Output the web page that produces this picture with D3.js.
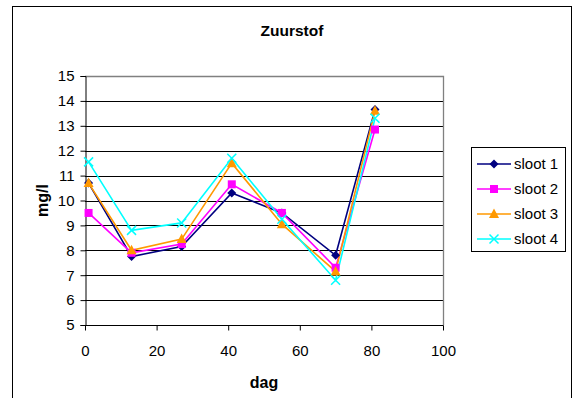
<!DOCTYPE html>
<html>
<head>
<meta charset="utf-8">
<script src="https://cdn.jsdelivr.net/npm/d3@7"></script>
<style>
  html, body { margin: 0; padding: 0; background: #fff; }
  svg { display: block; font-family: Arial, "Liberation Sans", sans-serif; }
</style>
</head>
<body>
<svg id="chart" width="573" height="398"></svg>
<script>
// Dissolved oxygen (mg/l) per ditch, sampled on these days
const days = [1, 13, 27, 41, 55, 70, 81];
const sloot1 = [10.7, 7.75, 8.15, 10.3, 9.5, 7.8, 13.65];
const sloot2 = [9.5, 7.9, 8.25, 10.65, 9.5, 7.3, 12.85];
const sloot3 = [10.7, 8.0, 8.45, 11.5, 9.05, 7.15, 13.6];
const sloot4 = [11.55, 8.8, 9.1, 11.7, 9.25, 6.8, 13.3];
const seriesNames = ["sloot 1", "sloot 2", "sloot 3", "sloot 4"];
const xTicks = [0, 20, 40, 60, 80, 100];
const yTicks = [5, 6, 7, 8, 9, 10, 11, 12, 13, 14, 15];

const series = [
  { name: seriesNames[0], values: sloot1, color: "#000080", marker: "diamond" },
  { name: seriesNames[1], values: sloot2, color: "#FF00FF", marker: "square" },
  { name: seriesNames[2], values: sloot3, color: "#FF9900", marker: "triangle" },
  { name: seriesNames[3], values: sloot4, color: "#00FFFF", marker: "cross" }
];

const svg = d3.select("#chart");

// outer chart frame
svg.append("rect")
  .attr("x", 12.5).attr("y", 6.5)
  .attr("width", 559).attr("height", 400)
  .attr("fill", "#fff").attr("stroke", "#000").attr("stroke-width", 1);

const plot = { left: 85, right: 443, top: 76, bottom: 325 };

const x = d3.scaleLinear().domain([0, 100]).range([plot.left, plot.right]);
const y = d3.scaleLinear().domain([5, 15]).range([plot.bottom, plot.top]);

// horizontal gridlines
svg.append("g")
  .selectAll("line")
  .data(yTicks.filter(t => t > 5 && t < 15))
  .join("line")
  .attr("x1", plot.left).attr("x2", plot.right)
  .attr("y1", d => Math.round(y(d)) + 0.5).attr("y2", d => Math.round(y(d)) + 0.5)
  .attr("stroke", "#000").attr("stroke-width", 1);

// plot area border (top and right)
svg.append("path")
  .attr("d", `M${plot.left},${plot.top + 0.5}H${plot.right + 0.5}V${plot.bottom}`)
  .attr("fill", "none").attr("stroke", "#808080").attr("stroke-width", 1.3);

// axes
const xAxis = d3.axisBottom(x).tickValues(xTicks).tickSize(5).tickPadding(6);
const yAxis = d3.axisLeft(y).tickValues(yTicks).tickSize(5).tickPadding(6);

const gx = svg.append("g")
  .attr("transform", `translate(0,${Math.round(y(5)) + 0.5})`)
  .call(xAxis);
const gy = svg.append("g")
  .attr("transform", `translate(${plot.left + 0.5},0)`)
  .call(yAxis);

[gx, gy].forEach(g => {
  g.select(".domain").attr("stroke", "#000").attr("stroke-width", 1);
  g.selectAll(".tick line").attr("stroke", "#000");
  g.selectAll(".tick text")
    .attr("fill", "#000")
    .style("font-size", "15px")
    .style("font-family", "Arial, 'Liberation Sans', sans-serif");
});
gx.select(".domain").attr("d", `M${plot.left},0H${plot.right + 0.5}`);
gx.selectAll(".tick text").attr("dy", "1.28em");

// series lines
const line = d3.line()
  .x((d, i) => x(days[i]))
  .y(d => y(d));

series.forEach(s => {
  svg.append("path")
    .datum(s.values)
    .attr("d", line)
    .attr("fill", "none")
    .attr("stroke", s.color)
    .attr("stroke-width", 1.6);
});

// marker shapes
function drawMarker(g, type, color, cx, cy) {
  if (type === "diamond") {
    g.append("path")
      .attr("d", `M${cx},${cy - 4.5}L${cx + 4.5},${cy}L${cx},${cy + 4.5}L${cx - 4.5},${cy}Z`)
      .attr("fill", color);
  } else if (type === "square") {
    g.append("rect")
      .attr("x", cx - 4).attr("y", cy - 4).attr("width", 8).attr("height", 8)
      .attr("fill", color);
  } else if (type === "triangle") {
    g.append("path")
      .attr("d", `M${cx},${cy - 5.5}L${cx + 5},${cy + 4}L${cx - 5},${cy + 4}Z`)
      .attr("fill", color);
  } else if (type === "cross") {
    g.append("path")
      .attr("d", `M${cx - 4.5},${cy - 4.5}L${cx + 4.5},${cy + 4.5}M${cx - 4.5},${cy + 4.5}L${cx + 4.5},${cy - 4.5}`)
      .attr("stroke", color).attr("stroke-width", 1.5).attr("fill", "none");
  }
}

series.forEach(s => {
  const g = svg.append("g");
  s.values.forEach((v, i) => drawMarker(g, s.marker, s.color, x(days[i]), y(v)));
});

// titles
svg.append("text")
  .attr("x", 292).attr("y", 36)
  .attr("text-anchor", "middle")
  .style("font-size", "15.5px").style("font-weight", "bold")
  .text("Zuurstof");

svg.append("text")
  .attr("x", (plot.left + plot.right) / 2).attr("y", 388)
  .attr("text-anchor", "middle")
  .style("font-size", "16px").style("font-weight", "bold")
  .text("dag");

svg.append("text")
  .attr("transform", `translate(48,${(plot.top + plot.bottom) / 2}) rotate(-90)`)
  .attr("text-anchor", "middle")
  .style("font-size", "16px").style("font-weight", "bold")
  .text("mg/l");

// legend
const legend = svg.append("g");
legend.append("rect")
  .attr("x", 471.5).attr("y", 147.5).attr("width", 94).attr("height", 104)
  .attr("fill", "#fff").attr("stroke", "#000").attr("stroke-width", 1);

series.forEach((s, i) => {
  const ly = 164 + i * 25;
  legend.append("line")
    .attr("x1", 477).attr("x2", 511).attr("y1", ly).attr("y2", ly)
    .attr("stroke", s.color).attr("stroke-width", 1.6);
  drawMarker(legend, s.marker, s.color, 494, ly);
  legend.append("text")
    .attr("x", 514).attr("y", ly).attr("dy", "0.35em")
    .style("font-size", "15px")
    .text(s.name);
});
</script>
</body>
</html>
